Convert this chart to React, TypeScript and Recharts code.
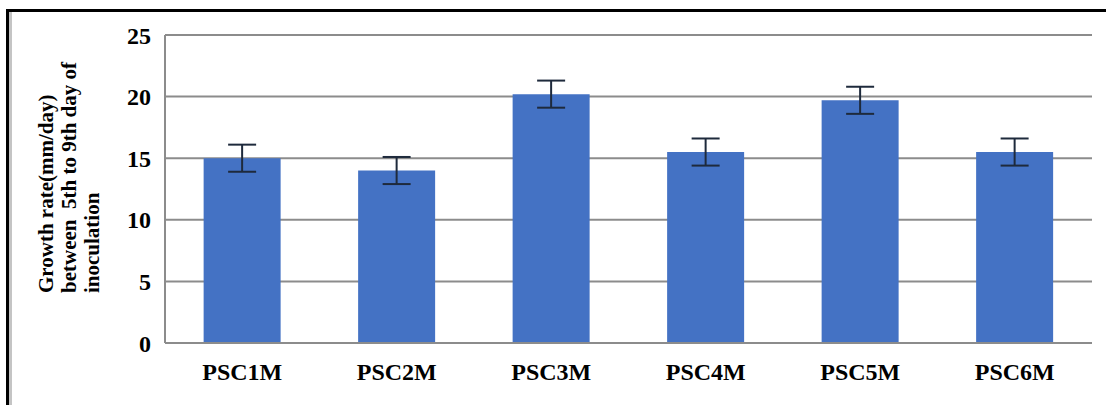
import React from "react";
import {
  BarChart,
  Bar,
  XAxis,
  YAxis,
  CartesianGrid,
  ErrorBar,
} from "recharts";

const categories = ["PSC1M", "PSC2M", "PSC3M", "PSC4M", "PSC5M", "PSC6M"];
const growthRates = [15.0, 14.0, 20.2, 15.5, 19.7, 15.5];
const errors = [1.1, 1.1, 1.1, 1.1, 1.1, 1.1];
const yTicks = [0, 5, 10, 15, 20, 25];
const yTitleLines = [
  "Growth rate(mm/day)",
  "between  5th to 9th day of",
  "inoculation",
];

const data = categories.map((name, i) => ({
  name,
  value: growthRates[i],
  err: errors[i],
}));

const FONT = "Liberation Serif, Times New Roman, DejaVu Serif, serif";

const tickStyle = {
  fill: "#000",
  fontSize: 24,
  fontWeight: "bold",
  fontFamily: FONT,
  style: { fontFamily: FONT, fontWeight: 700 },
};

const YTitle = (props: any) => {
  const vb = props.viewBox || { x: 0, y: 35, width: 165, height: 308 };
  const x0 = vb.x + 53;
  const y0 = vb.y + vb.height - 50;
  return (
    <text
      x={x0}
      y={y0}
      transform={`rotate(-90, ${x0}, ${y0})`}
      textAnchor="start"
      fontFamily={FONT}
      fontWeight="bold"
      fontSize={21}
      fill="#000"
      style={{ whiteSpace: "pre", fontFamily: FONT, fontWeight: 700 }}
    >
      {yTitleLines.map((line, i) => (
        <tspan key={i} x={x0} dy={i === 0 ? 0 : 23}>
          {line}
        </tspan>
      ))}
    </text>
  );
};

export default function App() {
  return (
    <div
      style={{
        position: "absolute",
        left: 0,
        top: 0,
        width: 1106,
        height: 405,
        background: "#fff",
        overflow: "hidden",
        fontFamily: FONT,
      }}
    >
      <BarChart
        width={1106}
        height={405}
        data={data}
        margin={{ top: 35, right: 14, left: 0, bottom: 0 }}
        barCategoryGap="25%"
        style={{ fontFamily: FONT }}
      >
        <CartesianGrid vertical={false} stroke="#8c8c8c" strokeWidth={2} />
        <XAxis
          dataKey="name"
          height={62}
          tickLine={false}
          tickSize={0}
          tickMargin={20}
          axisLine={{ stroke: "#8c8c8c", strokeWidth: 2 }}
          tick={tickStyle}
        />
        <YAxis
          width={165}
          domain={[0, 25]}
          ticks={yTicks}
          tickLine={false}
          tickSize={0}
          tickMargin={14}
          axisLine={{ stroke: "#8c8c8c", strokeWidth: 2 }}
          tick={tickStyle}
          label={<YTitle />}
        />
        <Bar dataKey="value" fill="#4472C4" isAnimationActive={false}>
          <ErrorBar
            dataKey="err"
            width={14}
            stroke="#1e2a3c"
            strokeWidth={2}
            isAnimationActive={false}
          />
        </Bar>
      </BarChart>
      <div
        style={{
          position: "absolute",
          left: 6,
          top: 9,
          width: 1106,
          height: 3,
          background: "#000",
        }}
      />
      <div
        style={{
          position: "absolute",
          left: 6,
          top: 9,
          width: 3,
          height: 400,
          background: "#000",
        }}
      />
      <div
        style={{
          position: "absolute",
          left: 9,
          top: 12,
          width: 3,
          height: 400,
          background: "#c4c4c4",
        }}
      />
    </div>
  );
}
